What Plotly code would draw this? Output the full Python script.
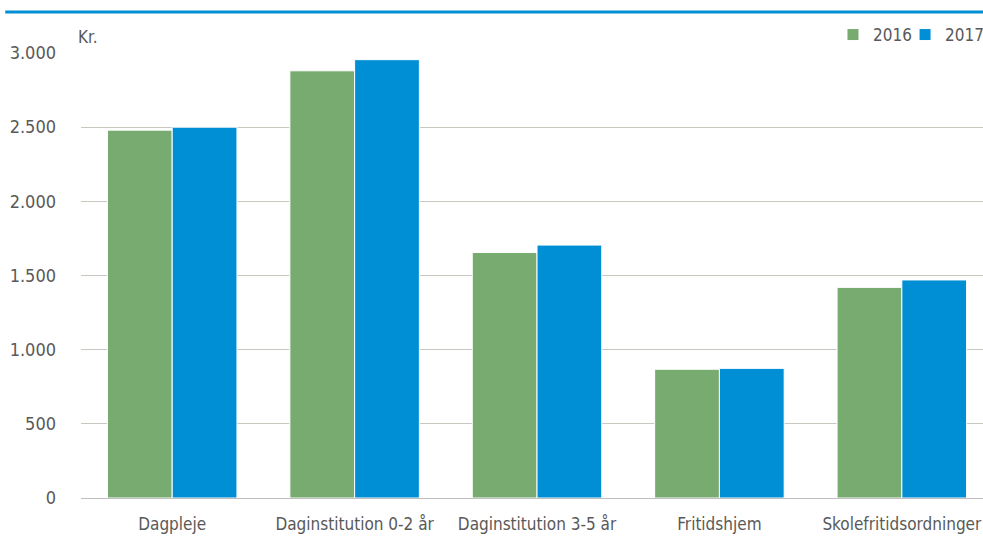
import plotly.graph_objects as go

categories = ["Dagpleje", "Daginstitution 0-2 år", "Daginstitution 3-5 år", "Fritidshjem", "Skolefritidsordninger"]
values_2016 = [2480, 2880, 1655, 868, 1420]
values_2017 = [2500, 2955, 1705, 874, 1470]
tick_vals = [0, 500, 1000, 1500, 2000, 2500, 3000]
tick_text = ["0", "500", "1.000", "1.500", "2.000", "2.500", "3.000"]

FONT = "DejaVu Sans Condensed, Liberation Sans Narrow, Arial Narrow, Liberation Sans, sans-serif"
TXT = "#595959"
GREEN = "#77AB70"
BLUE = "#008FD5"

fig = go.Figure()
fig.add_bar(x=categories, y=values_2016, name="2016", legend="legend",
            marker=dict(color=GREEN, line=dict(color="white", width=1)))
fig.add_bar(x=categories, y=values_2017, name="2017", legend="legend2",
            marker=dict(color=BLUE, line=dict(color="white", width=1)))

legend_common = dict(orientation="h", xref="container", yref="container",
                     y=0.9347, xanchor="left", yanchor="middle",
                     font=dict(family=FONT, size=17, color=TXT), itemwidth=30,
                     bgcolor="rgba(0,0,0,0)")

fig.update_layout(
    width=983, height=536,
    margin=dict(l=81, r=0, t=53, b=38),
    paper_bgcolor="white", plot_bgcolor="white",
    barmode="group", bargap=0.29, bargroupgap=0.0,
    font=dict(family=FONT, size=17, color=TXT),
    showlegend=True,
    legend=dict(x=0.8474, **legend_common),
    legend2=dict(x=0.9207, **legend_common),
    xaxis=dict(showgrid=False, showline=True, linecolor="#BFBFBF", linewidth=1, automargin=False,
               range=[-0.5, 4.445],
               ticks="", ticklabelstandoff=11, tickfont=dict(family=FONT, size=17, color=TXT)),
    yaxis=dict(range=[0, 3000], tickvals=tick_vals, ticktext=tick_text, automargin=False,
               showgrid=True, gridcolor="#C8C8C0", gridwidth=1, zeroline=False,
               ticks="", ticklabelstandoff=24, tickfont=dict(family=FONT, size=18, color=TXT)),
    shapes=[dict(type="line", xref="paper", yref="paper", x0=-0.084, x1=1.0, y0=1.092, y1=1.092,
                 line=dict(color="#008FD5", width=3))],
    annotations=[dict(text="Kr.", xref="paper", yref="paper", x=-0.006, y=1.01, xanchor="left", yanchor="bottom",
                      showarrow=False, font=dict(family=FONT, size=17, color=TXT))],
)

fig.write_html("out.html", config={"displayModeBar": False},
               post_script="document.body.style.margin='0px';")
